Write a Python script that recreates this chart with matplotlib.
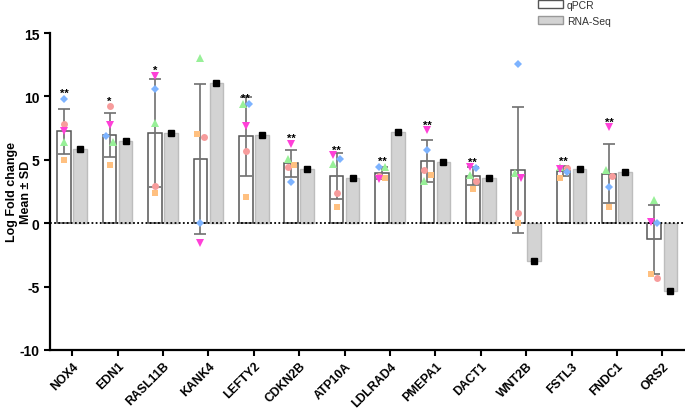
import numpy as np
import matplotlib.pyplot as plt
from matplotlib.patches import Patch

plt.rcParams['font.family'] = ['Liberation Sans', 'DejaVu Sans']
plt.rcParams['axes.unicode_minus'] = False

genes = ['NOX4', 'EDN1', 'RASL11B', 'KANK4', 'LEFTY2', 'CDKN2B', 'ATP10A',
         'LDLRAD4', 'PMEPA1', 'DACT1', 'WNT2B', 'FSTL3', 'FNDC1', 'ORS2']

# qPCR replicates, one list per replicate symbol
rep_circle = [7.81, 9.23, 2.97, 6.81, 5.66, 4.40, 2.42, 3.75, 4.18, 3.34, 0.84, 4.34, 3.71, -4.31]
rep_square = [4.95, 4.60, 2.37, 7.02, 2.05, 4.60, 1.24, 3.53, 3.81, 2.71, 0.05, 3.55, 1.29, -4.03]
rep_up = [6.42, 6.37, 7.92, 13.00, 9.42, 5.03, 4.63, 4.40, 3.34, 3.79, 3.92, 4.45, 4.16, 1.82]
rep_down = [7.24, 7.76, 11.63, -1.60, 7.66, 6.26, 5.34, 3.47, 7.34, 4.40, 3.58, 4.24, 7.55, 0.10]
rep_diamond = [9.81, 6.87, 10.58, 0.03, 9.42, 3.26, 5.10, 4.45, 5.79, 4.32, 12.57, 4.00, 2.82, 0.03]

rnaseq = [5.84, 6.50, 7.08, 11.07, 6.92, 4.26, 3.58, 7.21, 4.81, 3.55, -2.95, 4.24, 4.00, -5.38]

stars = ['**', '*', '*', '', '**', '**', '**', '**', '**', '**', '', '**', '**', '']

reps = np.array([rep_circle, rep_square, rep_up, rep_down, rep_diamond])
qpcr_mean = reps.mean(axis=0)
qpcr_sd = reps.std(axis=0, ddof=1)

rep_styles = [('o', '#F79C9C', 5), ('s', '#FFC080', 5), ('^', '#98F098', 5.5),
              ('v', '#FF40D8', 5.5), ('D', '#7DB3FF', 4)]


def spread(vals, thresh=0.55, step=0.07):
    # side-by-side placement for points that would overlap
    order = np.argsort(-vals, kind='stable')
    offs = np.zeros(len(vals))
    groups = [[order[0]]]
    for prev, i in zip(order[:-1], order[1:]):
        if vals[prev] - vals[i] < thresh:
            groups[-1].append(i)
        else:
            groups.append([i])
    for g in groups:
        if len(g) > 1:
            for k, idx in enumerate(g):
                offs[idx] = -step if k % 2 == 0 else step
    return offs


fig = plt.figure(figsize=(6.85, 4.10), dpi=100)
ax = fig.add_axes([0.073, 0.144, 0.927, 0.773])

x = np.arange(len(genes))
w = 0.30
dx = 0.177

ax.bar(x - dx, qpcr_mean, w, color='white', edgecolor='#555555', linewidth=1.1, zorder=2)
ax.bar(x + dx, rnaseq, w, color='#D3D3D3', edgecolor='#BDBDBD', linewidth=1.0, zorder=2)
ax.axhline(0, color='black', linestyle=(0, (1, 1.3)), linewidth=1.3, zorder=2.5)
ax.errorbar(x - dx, qpcr_mean, yerr=qpcr_sd, fmt='none', ecolor='#707070',
            elinewidth=1.2, capsize=4, capthick=1.2, zorder=3)
ax.plot(x + dx, rnaseq, 's', color='black', markersize=5, zorder=4)

for i in range(len(genes)):
    offs = spread(reps[:, i])
    for j, (m, c, ms) in enumerate(rep_styles):
        ax.plot(x[i] - dx + offs[j], reps[j, i], m, color=c, markersize=ms,
                markeredgewidth=0, zorder=4)
    if stars[i]:
        ax.text(x[i] - dx, reps[:, i].max() + 0.45, stars[i], ha='center', va='center',
                fontsize=8, fontweight='bold')

ax.set_xlim(-0.49, len(genes) - 0.5)
ax.set_ylim(-10, 15)
ax.set_yticks([-10, -5, 0, 5, 10, 15])
ax.set_xticks(x)
ax.set_xticklabels(genes, rotation=45, ha='right', rotation_mode='anchor',
                   fontsize=8.8, fontweight='bold')
for lab in ax.get_yticklabels():
    lab.set_fontweight('bold')
    lab.set_fontsize(10)

ax.spines['top'].set_visible(False)
ax.spines['right'].set_visible(False)
ax.spines['left'].set_linewidth(1.6)
ax.spines['bottom'].set_linewidth(1.6)
ax.tick_params(axis='both', length=4, width=1.5, color='black')
ax.tick_params(axis='x', pad=3)

ax.set_ylabel('Log Fold change\nMean ± SD', fontsize=9, fontweight='bold', linespacing=1.2)
ax.yaxis.set_label_coords(-0.028, 0.5)

handles = [Patch(facecolor='white', edgecolor='#555555', linewidth=1.0),
           Patch(facecolor='#D3D3D3', edgecolor='#999999', linewidth=1.0)]
ax.legend(handles, ['qPCR', 'RNA-Seq'], loc='upper left', bbox_to_anchor=(0.785, 0.998),
          bbox_transform=fig.transFigure, frameon=False, fontsize=7.5, borderpad=0,
          borderaxespad=0, handlelength=2.4, handleheight=0.8, handletextpad=0.4,
          labelspacing=0.55, labelcolor='#333333')

fig.savefig('out.png', dpi=100)
